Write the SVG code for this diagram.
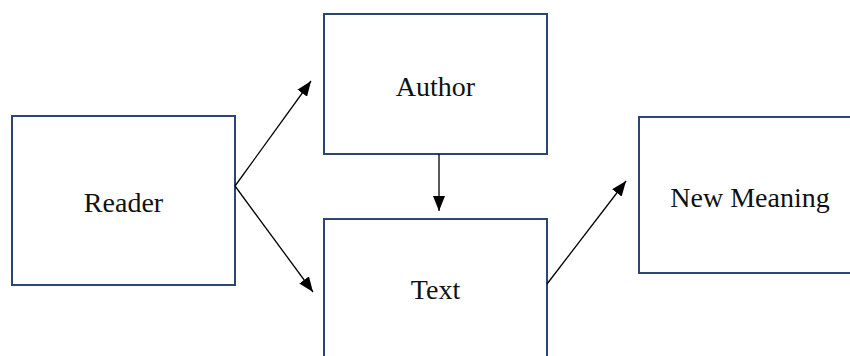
<svg xmlns="http://www.w3.org/2000/svg" width="850" height="356" viewBox="0 0 850 356">
<defs>
<style>
.box{fill:#fff;stroke:#2C4674;stroke-width:2}
.lbl{font-family:"Liberation Serif","Times New Roman",serif;font-size:28px;fill:#111;text-anchor:middle}
.conn{stroke:#000;stroke-width:1.3;fill:none;marker-end:url(#ah)}
</style>
<marker id="ah" viewBox="0 0 15 12" refX="15" refY="6" markerWidth="15" markerHeight="12" markerUnits="userSpaceOnUse" orient="auto">
<path d="M0,0 L15,6 L0,12 z" fill="#000"/>
</marker>
</defs>
<rect width="850" height="356" fill="#fff"/>
<g id="reader"><rect class="box" x="12" y="116" width="223" height="169"/><text class="lbl" x="123.5" y="212">Reader</text></g>
<g id="author"><rect class="box" x="324" y="14" width="223" height="140"/><text class="lbl" x="435.5" y="96">Author</text></g>
<g id="text"><rect class="box" x="324" y="219" width="223" height="160"/><text class="lbl" x="435.5" y="299">Text</text></g>
<g id="newmeaning"><rect class="box" x="639" y="117" width="230" height="156"/><text class="lbl" x="750" y="207">New Meaning</text></g>
<g id="connectors">
<line class="conn" x1="235" y1="186" x2="311" y2="81"/>
<line class="conn" x1="235" y1="186" x2="313" y2="292"/>
<line class="conn" x1="439" y1="154" x2="439" y2="211"/>
<line class="conn" x1="547" y1="284" x2="626" y2="181"/>
</g>
</svg>
